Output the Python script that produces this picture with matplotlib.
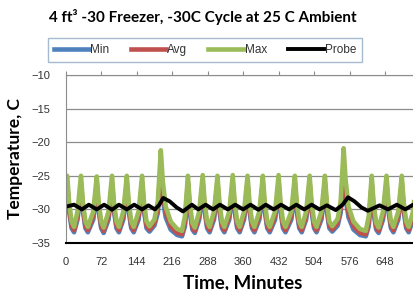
import numpy as np
import matplotlib
matplotlib.use("Agg")
import matplotlib.pyplot as plt

# sample times (minutes), one cycle per row
minutes = [
    0, 3, 7, 12, 17, 24,
    31, 35, 40, 45, 56,
    63, 67, 72, 77, 87,
    94, 98, 103, 108, 117,
    124, 128, 133, 138, 148,
    155, 159, 164, 170, 180, 187,
    193, 197, 203, 213, 226, 236, 242,
    248, 252, 257, 262, 271,
    278, 282, 287, 292, 301,
    308, 312, 317, 322, 332,
    339, 343, 348, 353, 362,
    369, 373, 378, 383, 393,
    400, 404, 409, 414, 425,
    432, 436, 441, 446, 458,
    465, 469, 474, 479, 488,
    495, 499, 504, 509, 519,
    526, 530, 535, 541, 552, 558,
    564, 568, 574, 584, 597, 609, 615,
    621, 625, 630, 635, 644,
    651, 655, 660, 665, 675,
    682, 686, 691, 696, 705,
    712, 716, 721, 726, 732,
]

t_max = [
    -27.0, -25.0, -29.0, -31.8, -32.6, -30.3,
    -25.0, -29.0, -31.8, -32.6, -30.3,
    -25.1, -29.0, -31.8, -32.7, -30.3,
    -25.0, -29.0, -31.8, -32.6, -30.3,
    -25.0, -29.0, -31.8, -32.6, -30.3,
    -25.0, -29.0, -31.8, -32.5, -31.5, -28.8,
    -21.2, -25.8, -29.6, -31.8, -32.9, -33.2, -31.0,
    -25.0, -29.2, -32.0, -32.7, -30.3,
    -24.9, -29.0, -31.8, -32.6, -30.3,
    -25.0, -29.0, -31.8, -32.6, -30.3,
    -24.9, -29.0, -31.8, -32.6, -30.3,
    -25.0, -29.0, -31.8, -32.6, -30.3,
    -25.0, -29.0, -31.8, -32.6, -30.3,
    -24.9, -29.0, -31.8, -32.6, -30.3,
    -25.0, -29.0, -31.8, -32.6, -30.3,
    -25.0, -29.0, -31.8, -32.6, -30.3,
    -25.0, -29.0, -31.8, -32.5, -31.4, -28.8,
    -20.9, -25.6, -29.6, -31.8, -32.9, -33.2, -31.0,
    -25.0, -29.2, -32.0, -32.7, -30.3,
    -25.0, -29.0, -31.8, -32.6, -30.3,
    -25.0, -29.0, -31.8, -32.6, -30.3,
    -25.0, -29.0, -31.8, -32.6, -31.0,
]

t_avg = [
    -27.8, -26.0, -29.8, -32.4, -33.1, -31.0,
    -26.0, -29.8, -32.4, -33.1, -31.0,
    -26.1, -29.8, -32.4, -33.2, -31.0,
    -26.0, -29.8, -32.4, -33.1, -31.0,
    -26.0, -29.8, -32.4, -33.1, -31.0,
    -26.0, -29.8, -32.4, -33.0, -32.0, -29.8,
    -23.5, -27.5, -30.5, -32.5, -33.5, -33.7, -32.0,
    -26.0, -30.0, -32.6, -33.2, -31.0,
    -26.0, -29.8, -32.4, -33.1, -31.0,
    -26.0, -29.8, -32.4, -33.1, -31.0,
    -26.0, -29.8, -32.4, -33.1, -31.0,
    -26.0, -29.8, -32.4, -33.1, -31.0,
    -26.0, -29.8, -32.4, -33.1, -31.0,
    -26.0, -29.8, -32.4, -33.1, -31.0,
    -26.0, -29.8, -32.4, -33.1, -31.0,
    -26.0, -29.8, -32.4, -33.1, -31.0,
    -26.0, -29.8, -32.4, -33.0, -32.0, -29.8,
    -23.3, -27.4, -30.5, -32.5, -33.5, -33.7, -32.0,
    -26.0, -30.0, -32.6, -33.2, -31.0,
    -26.0, -29.8, -32.4, -33.1, -31.0,
    -26.0, -29.8, -32.4, -33.1, -31.0,
    -26.0, -29.8, -32.4, -33.1, -31.5,
]

t_min = [
    -28.5, -26.8, -30.3, -32.8, -33.4, -31.5,
    -26.8, -30.3, -32.8, -33.4, -31.5,
    -26.9, -30.3, -32.8, -33.5, -31.5,
    -26.8, -30.3, -32.8, -33.4, -31.5,
    -26.8, -30.3, -32.8, -33.4, -31.5,
    -26.8, -30.3, -32.8, -33.3, -32.4, -30.5,
    -24.5, -28.5, -31.2, -33.0, -33.8, -34.0, -32.5,
    -26.8, -30.5, -33.0, -33.5, -31.5,
    -26.8, -30.3, -32.8, -33.4, -31.5,
    -26.8, -30.3, -32.8, -33.4, -31.5,
    -26.8, -30.3, -32.8, -33.4, -31.5,
    -26.8, -30.3, -32.8, -33.4, -31.5,
    -26.8, -30.3, -32.8, -33.4, -31.5,
    -26.8, -30.3, -32.8, -33.4, -31.5,
    -26.8, -30.3, -32.8, -33.4, -31.5,
    -26.8, -30.3, -32.8, -33.4, -31.5,
    -26.8, -30.3, -32.8, -33.3, -32.4, -30.5,
    -24.3, -28.4, -31.2, -33.0, -33.8, -34.0, -32.5,
    -26.8, -30.5, -33.0, -33.5, -31.5,
    -26.8, -30.3, -32.8, -33.4, -31.5,
    -26.8, -30.3, -32.8, -33.4, -31.5,
    -26.8, -30.3, -32.8, -33.4, -32.0,
]

probe_minutes = [0, 17, 33, 47, 63, 78, 94, 108, 124, 139, 155, 168, 181, 189,
                 198, 211, 225, 238, 256, 269, 284, 299, 313, 329, 344, 360,
                 375, 391, 406, 422, 437, 453, 468, 484, 499, 515, 530, 548,
                 562, 573, 586, 600, 613, 637, 654, 672, 689, 705, 720, 732]
t_probe = [-29.6, -29.3, -30.0, -29.3, -30.0, -29.3, -30.05, -29.3, -30.0,
           -29.3, -30.0, -29.4, -30.0, -29.4, -28.3, -28.8, -29.7, -30.3,
           -29.3, -30.0, -29.3, -30.0, -29.3, -30.0, -29.3, -30.0, -29.3,
           -30.05, -29.3, -30.0, -29.3, -30.0, -29.3, -30.0, -29.3, -30.0,
           -29.4, -30.1, -29.3, -28.2, -28.8, -29.7, -30.2, -29.4, -30.0,
           -29.3, -30.0, -29.3, -30.0, -29.5]

x_ticks = [0, 72, 144, 216, 288, 360, 432, 504, 576, 648]
y_ticks = [-35, -30, -25, -20, -15, -10]

fig = plt.figure(figsize=(4.14, 2.9), dpi=100)
# plot area runs a little past the right edge of the picture (cropped chart)
ax = fig.add_axes([65.7/414, 47/290, (420.5-65.7)/414, 168/290])

ax.plot(minutes, t_min, color='#4F81BD', lw=3.3, label='Min')
ax.plot(minutes, t_avg, color='#C0504D', lw=3.3, label='Avg')
ax.plot(minutes, t_max, color='#9BBB59', lw=3.3, label='Max')
ax.plot(probe_minutes, t_probe, color='black', lw=2.8, label='Probe')

ax.set_xlim(0, 720)
ax.set_ylim(-35, -10)
ax.set_xticks(x_ticks)
ax.set_yticks(y_ticks)
ax.yaxis.grid(True, color='#8c8c8c', lw=0.9)
ax.set_axisbelow(True)

ax.spines['right'].set_visible(False)
ax.spines['top'].set_color('#8c8c8c')
ax.spines['left'].set_color('#8c8c8c')
ax.spines['bottom'].set_color('black')
ax.spines['bottom'].set_linewidth(1.5)

ax.tick_params(axis='x', bottom=False, top=True, labelbottom=True,
               direction='out', length=3, color='#8c8c8c', labelsize=8,
               labelcolor='#333333', pad=7)
ax.tick_params(axis='y', length=0, labelsize=8, labelcolor='#333333', pad=11)
for lab in ax.get_xticklabels() + ax.get_yticklabels():
    lab.set_fontfamily('Liberation Sans')

ax.set_xlabel('Time, Minutes', fontsize=13.5, fontweight='bold', family='Lato',
              labelpad=5)
ax.set_ylabel('Temperature, C', fontsize=12.5, fontweight='bold', family='Lato',
              labelpad=6)

fig.text(0.49, 0.94, '4 ft³ -30 Freezer, -30C Cycle at 25 C Ambient',
         ha='center', va='center', fontsize=11, fontweight='bold', family='Lato')

leg = fig.legend(loc='center', bbox_to_anchor=(205/414, 1 - 50/290), ncol=4,
                 frameon=True, fancybox=False, handlelength=3.0,
                 columnspacing=1.8, handletextpad=0.1, borderpad=0.5,
                 prop={'family': 'Liberation Sans', 'size': 8.5})
leg.get_frame().set_edgecolor('#8eaac6')
leg.get_frame().set_linewidth(1.0)
for txt in leg.get_texts():
    txt.set_color('#333333')

fig.savefig('out.png', dpi=100)
